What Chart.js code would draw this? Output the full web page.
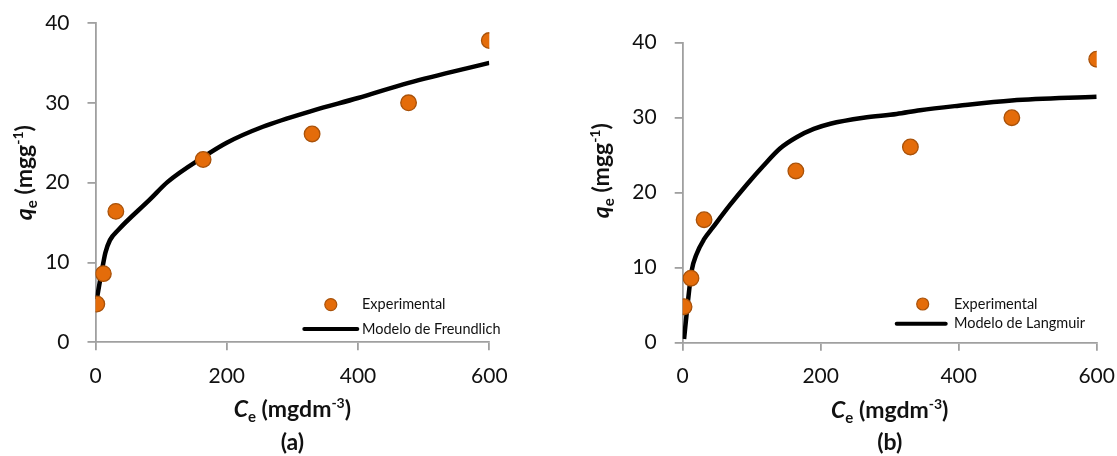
<!DOCTYPE html>
<html>
<head>
<meta charset="utf-8">
<script src="https://cdn.jsdelivr.net/npm/chart.js@4.4.1/dist/chart.umd.min.js"></script>
<style>
  html, body { margin: 0; padding: 0; background: #ffffff; }
  #wrap { position: relative; width: 1117px; height: 456px; overflow: hidden; }
  .panel { position: absolute; top: 0; height: 456px; }
  #pa { left: 0; width: 560px; }
  #pb { left: 560px; width: 557px; }
</style>
</head>
<body>
<div id="wrap">
  <div class="panel" id="pa"><canvas id="ca" width="560" height="456"></canvas></div>
  <div class="panel" id="pb"><canvas id="cb" width="557" height="456"></canvas></div>
</div>
<script>
// Equilibrium data: Ce (mg dm-3) vs qe (mg g-1)
const ceExp = [2, 12, 31, 164, 330, 477, 600];
const qeExp = [4.8, 8.6, 16.4, 22.9, 26.1, 30.0, 37.8];

// Freundlich model curve
const ceFreundlich = [2, 7, 12, 15, 22, 35, 83, 110, 164, 200, 255, 330, 400, 477, 600];
const qeFreundlich = [5.4, 7.8, 10.0, 11.2, 12.8, 14.1, 17.9, 20.1, 23.2, 25.0, 27.0, 29.0, 30.6, 32.5, 35.0];

// Langmuir model curve
const ceLangmuir = [2, 7, 13, 20, 31, 44, 68, 93, 117, 141, 165, 190, 214, 262, 310, 344, 400, 477, 600];
const qeLangmuir = [0.5, 5.0, 9.6, 11.8, 13.8, 15.4, 18.3, 21.1, 23.6, 25.9, 27.4, 28.5, 29.2, 30.0, 30.5, 31.0, 31.6, 32.3, 32.8];

// Axis ticks
const xTicks = [0, 200, 400, 600];
const yTicks = [0, 10, 20, 30, 40];

const seriesLabels = ['Experimental', 'Modelo de Freundlich', 'Modelo de Langmuir'];

const FONT = 'Lato, "Open Sans", "DejaVu Sans", sans-serif';
const AXIS_GREY = '#a0a0a0';
const TEXT = '#111111';
const ORANGE = '#e46c0a';
const ORANGE_EDGE = '#a9520a';

const toPoints = (xs, ys) => xs.map((x, i) => ({ x, y: ys[i] }));

// Draws a run of text pieces (italic / subscript / superscript) centred on (cx, baseline)
function drawRich(ctx, segs, cx, cy, angle) {
  ctx.save();
  ctx.translate(cx, cy);
  ctx.rotate(angle);
  ctx.textBaseline = 'alphabetic';
  ctx.textAlign = 'left';
  ctx.fillStyle = TEXT;
  const fontOf = s => `${s.style || 'normal'} ${s.weight || 'bold'} ${s.size}px ${FONT}`;
  let total = 0;
  segs.forEach(s => { ctx.font = fontOf(s); total += ctx.measureText(s.t).width; });
  let x = -total / 2;
  segs.forEach(s => {
    ctx.font = fontOf(s);
    ctx.fillText(s.t, x, s.dy || 0);
    x += ctx.measureText(s.t).width;
  });
  ctx.restore();
}

const panelText = {
  id: 'panelText',
  afterDraw(chart, args, o) {
    const { ctx, chartArea: a } = chart;
    const cx = (a.left + a.right) / 2;
    drawRich(ctx, o.xTitle, cx, a.bottom + o.xTitleDy, 0);
    drawRich(ctx, o.caption, cx, a.bottom + o.captionDy, 0);
    drawRich(ctx, o.yTitle, a.left + o.yTitleDx, (a.top + a.bottom) / 2 + o.yTitleDy, -Math.PI / 2);

    // key: marker row and line row
    const k = o.key;
    const ds0 = chart.data.datasets[0];
    const ds1 = chart.data.datasets[1];
    ctx.save();
    const y1 = a.bottom + k.row1;
    const y2 = a.bottom + k.row2;
    ctx.beginPath();
    ctx.arc(a.right + k.markerX, y1, k.markerR, 0, Math.PI * 2);
    ctx.fillStyle = ds0.backgroundColor;
    ctx.fill();
    ctx.lineWidth = 1.2;
    ctx.strokeStyle = ds0.borderColor;
    ctx.stroke();
    ctx.beginPath();
    ctx.moveTo(a.right + k.lineX1, y2);
    ctx.lineTo(a.right + k.lineX2, y2);
    ctx.lineWidth = 4;
    ctx.lineCap = 'round';
    ctx.strokeStyle = ds1.borderColor;
    ctx.stroke();
    ctx.font = `14.5px ${FONT}`;
    ctx.fillStyle = TEXT;
    ctx.textBaseline = 'middle';
    ctx.textAlign = 'left';
    ctx.fillText(ds0.label, a.right + k.textX, y1);
    ctx.fillText(ds1.label, a.right + k.textX, y2);
    ctx.restore();
  }
};

const sub = t => ({ t, size: 15, dy: 5 });
const sup = t => ({ t, size: 14, dy: -9 });
const big = (t, style) => ({ t, size: 23, style });
const xTitle = [big('C', 'italic'), sub('e'), big(' (mgdm'), sup('-3'), big(')')];
const yTitle = [big('q', 'italic'), sub('e'), big(' (mgg'), sup('-1'), big(')')];

function makeChart(canvasId, cfg) {
  const tickFont = { family: FONT, size: 21 };
  return new Chart(document.getElementById(canvasId), {
    type: 'scatter',
    data: {
      datasets: [
        {
          label: seriesLabels[0],
          data: toPoints(ceExp, qeExp),
          backgroundColor: ORANGE,
          borderColor: ORANGE_EDGE,
          borderWidth: 1.3,
          pointRadius: 7.8,
          pointHoverRadius: 7.8
        },
        {
          label: cfg.modelLabel,
          data: toPoints(cfg.modelX, cfg.modelY),
          showLine: true,
          borderColor: '#000000',
          backgroundColor: '#000000',
          borderWidth: 4.5,
          pointRadius: 0,
          cubicInterpolationMode: 'monotone'
        }
      ]
    },
    options: {
      responsive: false,
      animation: false,
      devicePixelRatio: 1,
      layout: { padding: cfg.padding },
      plugins: {
        legend: { display: false },
        tooltip: { enabled: false },
        panelText: cfg.text
      },
      scales: {
        x: {
          type: 'linear',
          min: xTicks[0],
          max: xTicks[xTicks.length - 1],
          afterBuildTicks: s => { s.ticks = xTicks.map(v => ({ value: v })); },
          afterFit: s => { s.height = cfg.xAxisHeight; s.paddingLeft = 0; s.paddingRight = 0; },
          grid: { drawOnChartArea: false, drawTicks: true, tickLength: 8, color: AXIS_GREY, lineWidth: 1.8 },
          border: { display: true, color: AXIS_GREY, width: 1.8 },
          ticks: { font: tickFont, color: TEXT, padding: 13, maxRotation: 0 }
        },
        y: {
          type: 'linear',
          min: yTicks[0],
          max: yTicks[yTicks.length - 1],
          afterBuildTicks: s => { s.ticks = yTicks.map(v => ({ value: v })); },
          afterFit: s => { s.width = cfg.yAxisWidth; s.paddingTop = 0; s.paddingBottom = 0; },
          grid: { drawOnChartArea: false, drawTicks: true, tickLength: 8, color: AXIS_GREY, lineWidth: 1.8 },
          border: { display: true, color: AXIS_GREY, width: 1.8 },
          ticks: { font: tickFont, color: TEXT, padding: 18 }
        }
      }
    },
    plugins: [panelText]
  });
}

makeChart('ca', {
  modelLabel: seriesLabels[1],
  modelX: ceFreundlich,
  modelY: qeFreundlich,
  padding: { left: 0, top: 23, right: 70.7, bottom: 0 },
  xAxisHeight: 113.7,
  yAxisWidth: 95.5,
  text: {
    xTitle, yTitle,
    caption: [big('(a)')],
    xTitleDy: 75, captionDy: 107.5,
    yTitleDx: -63.5, yTitleDy: -10,
    key: { markerX: -158.5, markerR: 6, row1: -37.7, row2: -13.3, textX: -127.3, lineX1: -185, lineX2: -132 }
  }
});

makeChart('cb', {
  modelLabel: seriesLabels[2],
  modelX: ceLangmuir,
  modelY: qeLangmuir,
  padding: { left: 0, top: 42.7, right: 20.3, bottom: 0 },
  xAxisHeight: 113.3,
  yAxisWidth: 122.7,
  text: {
    xTitle, yTitle,
    caption: [big('(b)')],
    xTitleDy: 75, captionDy: 107.5,
    yTitleDx: -74.2, yTitleDy: -22,
    key: { markerX: -174, markerR: 6, row1: -38.7, row2: -19, textX: -142.7, lineX1: -200, lineX2: -151 }
  }
});
</script>
</body>
</html>
